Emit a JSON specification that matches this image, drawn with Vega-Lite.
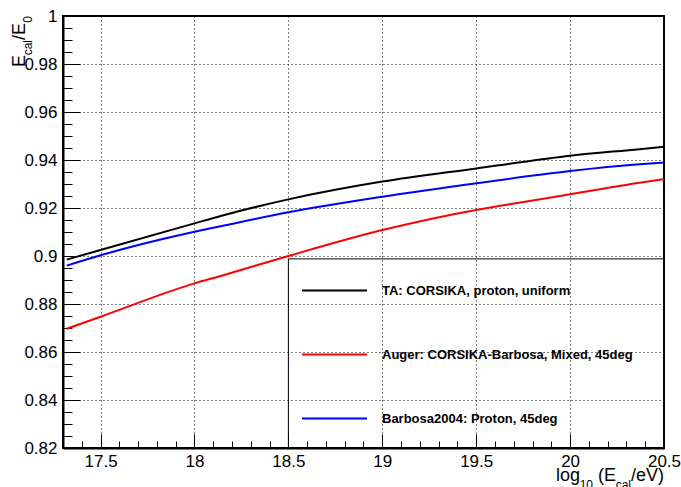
{
  "$schema": "https://vega.github.io/schema/vega-lite/v6.json",
  "width": 601,
  "height": 432,
  "autosize": {"type": "none"},
  "padding": {"left": 63, "top": 16, "right": 17, "bottom": 39},
  "background": "white",
  "config": {
    "font": "Liberation Sans",
    "view": {"stroke": "#000", "strokeWidth": 2}
  },
  "data": {
    "values": [
      {"series": "TA: CORSIKA, proton, uniform", "logE": 17.32, "ratio": 0.8985},
      {"series": "TA: CORSIKA, proton, uniform", "logE": 17.5, "ratio": 0.9025},
      {"series": "TA: CORSIKA, proton, uniform", "logE": 18.0, "ratio": 0.9136},
      {"series": "TA: CORSIKA, proton, uniform", "logE": 18.14, "ratio": 0.9167},
      {"series": "TA: CORSIKA, proton, uniform", "logE": 18.5, "ratio": 0.9236},
      {"series": "TA: CORSIKA, proton, uniform", "logE": 19.0, "ratio": 0.931},
      {"series": "TA: CORSIKA, proton, uniform", "logE": 19.5, "ratio": 0.9365},
      {"series": "TA: CORSIKA, proton, uniform", "logE": 19.62, "ratio": 0.9378},
      {"series": "TA: CORSIKA, proton, uniform", "logE": 20.0, "ratio": 0.9418},
      {"series": "TA: CORSIKA, proton, uniform", "logE": 20.37, "ratio": 0.9445},
      {"series": "TA: CORSIKA, proton, uniform", "logE": 20.5, "ratio": 0.9455},
      {"series": "Auger: CORSIKA-Barbosa, Mixed, 45deg", "logE": 17.32, "ratio": 0.8697},
      {"series": "Auger: CORSIKA-Barbosa, Mixed, 45deg", "logE": 17.5, "ratio": 0.8747},
      {"series": "Auger: CORSIKA-Barbosa, Mixed, 45deg", "logE": 18.0, "ratio": 0.8886},
      {"series": "Auger: CORSIKA-Barbosa, Mixed, 45deg", "logE": 18.14, "ratio": 0.8917},
      {"series": "Auger: CORSIKA-Barbosa, Mixed, 45deg", "logE": 18.5, "ratio": 0.9},
      {"series": "Auger: CORSIKA-Barbosa, Mixed, 45deg", "logE": 19.0, "ratio": 0.9108},
      {"series": "Auger: CORSIKA-Barbosa, Mixed, 45deg", "logE": 19.5, "ratio": 0.9192},
      {"series": "Auger: CORSIKA-Barbosa, Mixed, 45deg", "logE": 19.62, "ratio": 0.9208},
      {"series": "Auger: CORSIKA-Barbosa, Mixed, 45deg", "logE": 20.0, "ratio": 0.9257},
      {"series": "Auger: CORSIKA-Barbosa, Mixed, 45deg", "logE": 20.37, "ratio": 0.9305},
      {"series": "Auger: CORSIKA-Barbosa, Mixed, 45deg", "logE": 20.5, "ratio": 0.932},
      {"series": "Barbosa2004: Proton, 45deg", "logE": 17.32, "ratio": 0.896},
      {"series": "Barbosa2004: Proton, 45deg", "logE": 17.5, "ratio": 0.9003},
      {"series": "Barbosa2004: Proton, 45deg", "logE": 18.0, "ratio": 0.9101},
      {"series": "Barbosa2004: Proton, 45deg", "logE": 18.14, "ratio": 0.9124},
      {"series": "Barbosa2004: Proton, 45deg", "logE": 18.5, "ratio": 0.9182},
      {"series": "Barbosa2004: Proton, 45deg", "logE": 19.0, "ratio": 0.9247},
      {"series": "Barbosa2004: Proton, 45deg", "logE": 19.5, "ratio": 0.9303},
      {"series": "Barbosa2004: Proton, 45deg", "logE": 19.62, "ratio": 0.9316},
      {"series": "Barbosa2004: Proton, 45deg", "logE": 20.0, "ratio": 0.9354},
      {"series": "Barbosa2004: Proton, 45deg", "logE": 20.37, "ratio": 0.9382},
      {"series": "Barbosa2004: Proton, 45deg", "logE": 20.5, "ratio": 0.9389}
    ]
  },
  "resolve": {"axis": {"x": "independent", "y": "independent"}},
  "layer": [
    {
      "layer": [
        {
          "data": {"values": [{}]},
          "mark": {"type": "rect", "fill": "transparent", "stroke": "#000", "strokeWidth": 1},
          "encoding": {
            "x": {"datum": 18.5},
            "x2": {"datum": 20.5},
            "y": {"datum": 0.8988},
            "y2": {"datum": 0.82}
          }
        },
        {
          "mark": {"type": "line", "strokeWidth": 2, "interpolate": "monotone"},
          "encoding": {
            "x": {
              "field": "logE",
              "type": "quantitative",
              "scale": {"domain": [17.3, 20.5], "nice": false, "zero": false},
              "axis": {
                "orient": "bottom",
                "values": [17.5, 18, 18.5, 19, 19.5, 20, 20.5],
                "format": "~g",
                "title": null,
                "grid": true,
                "gridColor": "#000",
                "gridDash": [1, 3],
                "gridWidth": 1,
                "tickSize": -14,
                "tickColor": "#000",
                "tickWidth": 1,
                "domainColor": "#000",
                "domainWidth": 2,
                "labelFont": "Liberation Sans",
                "labelFontSize": 17,
                "labelColor": "#000",
                "labelPadding": 19,
                "labelFlush": false,
                "labelOverlap": false
              }
            },
            "y": {
              "field": "ratio",
              "type": "quantitative",
              "scale": {"domain": [0.82, 1], "nice": false, "zero": false},
              "axis": {
                "orient": "left",
                "values": [0.82, 0.84, 0.86, 0.88, 0.9, 0.92, 0.94, 0.96, 0.98, 1],
                "format": "~g",
                "title": null,
                "grid": true,
                "gridColor": "#000",
                "gridDash": [1, 3],
                "gridWidth": 1,
                "tickSize": -17,
                "tickColor": "#000",
                "tickWidth": 1,
                "domainColor": "#000",
                "domainWidth": 2,
                "labelFont": "Liberation Sans",
                "labelFontSize": 17,
                "labelColor": "#000",
                "labelPadding": 23,
                "labelFlush": false,
                "labelOverlap": false
              }
            },
            "color": {
              "field": "series",
              "type": "nominal",
              "scale": {
                "domain": ["TA: CORSIKA, proton, uniform", "Auger: CORSIKA-Barbosa, Mixed, 45deg", "Barbosa2004: Proton, 45deg"],
                "range": ["#000000", "#ff0000", "#0000ff"]
              },
              "legend": {
                "orient": "none",
                "legendX": 265,
                "legendY": 268,
                "title": null,
                "padding": 0,
                "symbolType": "M-13,0H13",
                "symbolSize": 25,
                "symbolStrokeWidth": 2,
                "symbolFillColor": "transparent",
                "labelFont": "Liberation Sans",
                "labelFontWeight": "bold",
                "labelFontSize": 13,
                "labelColor": "#000",
                "labelOffset": 41,
                "labelLimit": 400,
                "rowPadding": 50
              }
            }
          }
        },
        {
          "data": {"values": [{}]},
          "mark": {"type": "text", "text": "/eV)", "align": "right", "baseline": "alphabetic", "fontSize": 18, "color": "#000", "dx": 0, "dy": 33},
          "encoding": {"x": {"datum": 20.5}, "y": {"datum": 0.82}}
        },
        {
          "data": {"values": [{}]},
          "mark": {"type": "text", "text": "cal", "align": "right", "baseline": "alphabetic", "fontSize": 12, "color": "#000", "dx": -33, "dy": 41},
          "encoding": {"x": {"datum": 20.5}, "y": {"datum": 0.82}}
        },
        {
          "data": {"values": [{}]},
          "mark": {"type": "text", "text": "(E", "align": "right", "baseline": "alphabetic", "fontSize": 18, "color": "#000", "dx": -48, "dy": 33},
          "encoding": {"x": {"datum": 20.5}, "y": {"datum": 0.82}}
        },
        {
          "data": {"values": [{}]},
          "mark": {"type": "text", "text": "10", "align": "right", "baseline": "alphabetic", "fontSize": 12, "color": "#000", "dx": -71, "dy": 41},
          "encoding": {"x": {"datum": 20.5}, "y": {"datum": 0.82}}
        },
        {
          "data": {"values": [{}]},
          "mark": {"type": "text", "text": "log", "align": "right", "baseline": "alphabetic", "fontSize": 18, "color": "#000", "dx": -84, "dy": 33},
          "encoding": {"x": {"datum": 20.5}, "y": {"datum": 0.82}}
        },
        {
          "data": {"values": [{}]},
          "mark": {"type": "text", "text": "0", "angle": 270, "align": "right", "baseline": "alphabetic", "fontSize": 12, "color": "#000", "dx": 0, "dy": -31},
          "encoding": {"x": {"datum": 17.3}, "y": {"datum": 1}}
        },
        {
          "data": {"values": [{}]},
          "mark": {"type": "text", "text": "E", "angle": 270, "align": "right", "baseline": "alphabetic", "fontSize": 18, "color": "#000", "dx": -7, "dy": -38},
          "encoding": {"x": {"datum": 17.3}, "y": {"datum": 1}}
        },
        {
          "data": {"values": [{}]},
          "mark": {"type": "text", "text": "/", "angle": 270, "align": "right", "baseline": "alphabetic", "fontSize": 18, "color": "#000", "dx": -19, "dy": -38},
          "encoding": {"x": {"datum": 17.3}, "y": {"datum": 1}}
        },
        {
          "data": {"values": [{}]},
          "mark": {"type": "text", "text": "cal", "angle": 270, "align": "right", "baseline": "alphabetic", "fontSize": 12, "color": "#000", "dx": -24, "dy": -31},
          "encoding": {"x": {"datum": 17.3}, "y": {"datum": 1}}
        },
        {
          "data": {"values": [{}]},
          "mark": {"type": "text", "text": "E", "angle": 270, "align": "right", "baseline": "alphabetic", "fontSize": 18, "color": "#000", "dx": -39, "dy": -38},
          "encoding": {"x": {"datum": 17.3}, "y": {"datum": 1}}
        }
      ]
    },
    {
      "mark": {"type": "point", "opacity": 0},
      "encoding": {
        "x": {
          "field": "logE",
          "type": "quantitative",
          "axis": {
            "orient": "bottom",
            "values": [17.4, 17.6, 17.7, 17.8, 17.9, 18.1, 18.2, 18.3, 18.4, 18.6, 18.7, 18.8, 18.9, 19.1, 19.2, 19.3, 19.4, 19.6, 19.7, 19.8, 19.9, 20.1, 20.2, 20.3, 20.4],
            "title": null,
            "labels": false,
            "grid": false,
            "domain": false,
            "tickSize": -7,
            "tickColor": "#000",
            "tickWidth": 1
          }
        },
        "y": {
          "field": "ratio",
          "type": "quantitative",
          "axis": {
            "orient": "left",
            "values": [0.825, 0.83, 0.835, 0.845, 0.85, 0.855, 0.865, 0.87, 0.875, 0.885, 0.89, 0.895, 0.905, 0.91, 0.915, 0.925, 0.93, 0.935, 0.945, 0.95, 0.955, 0.965, 0.97, 0.975, 0.985, 0.99, 0.995],
            "title": null,
            "labels": false,
            "grid": false,
            "domain": false,
            "tickSize": -9,
            "tickColor": "#000",
            "tickWidth": 1
          }
        }
      }
    }
  ]
}
